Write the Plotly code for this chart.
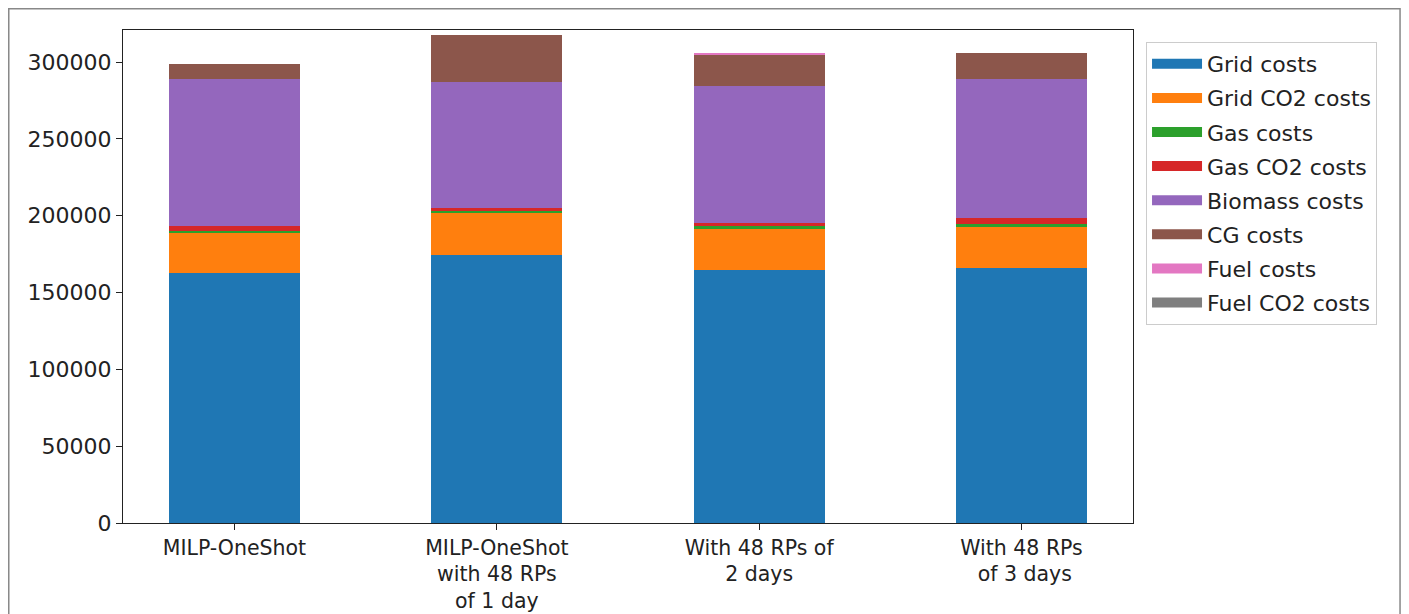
import plotly.graph_objects as go

categories = ["MILP-OneShot",
              "MILP-OneShot<br>with 48 RPs<br>of 1 day",
              "With 48 RPs of<br>2 days",
              "With 48 RPs<br> of 3 days"]

grid_costs = [162500, 174400, 164650, 165750]
grid_co2_costs = [26400, 27200, 26450, 26650]
gas_costs = [1100, 1400, 2400, 2100]
gas_co2_costs = [3400, 1800, 1700, 4200]
biomass_costs = [95400, 82000, 89400, 90250]
cg_costs = [9700, 30800, 20200, 17150]
fuel_costs = [0, 0, 1300, 0]
fuel_co2_costs = [0, 0, 0, 0]

series_names = ["Grid costs", "Grid CO2 costs", "Gas costs", "Gas CO2 costs",
                "Biomass costs", "CG costs", "Fuel costs", "Fuel CO2 costs"]
series_values = [grid_costs, grid_co2_costs, gas_costs, gas_co2_costs,
                 biomass_costs, cg_costs, fuel_costs, fuel_co2_costs]
colors = ["#1f77b4", "#ff7f0e", "#2ca02c", "#d62728",
          "#9467bd", "#8c564b", "#e377c2", "#7f7f7f"]

y_ticks = [0, 50000, 100000, 150000, 200000, 250000, 300000]

x_pos = list(range(len(categories)))

fig = go.Figure()
for name, vals, col in zip(series_names, series_values, colors):
    fig.add_trace(go.Bar(
        x=x_pos, y=vals, name=name, legendgroup=name, showlegend=False,
        marker=dict(color=col, line=dict(width=0)),
        width=0.5,
    ))
# legend swatches (wide rectangles like the reference)
for name, col in zip(series_names, colors):
    fig.add_trace(go.Scatter(
        x=[None], y=[None], mode="lines", name=name, legendgroup=name,
        line=dict(color=col, width=14), hoverinfo="skip",
    ))

font_family = "DejaVu Sans"
fig.update_layout(
    width=1409, height=614,
    barmode="stack",
    plot_bgcolor="white", paper_bgcolor="white",
    margin=dict(l=115, r=284, t=22, b=99, autoexpand=False),
    font=dict(family=font_family, size=22, color="#222222"),
    showlegend=True,
    legend=dict(
        x=1.0129, y=0.9757, xanchor="left", yanchor="top",
        bordercolor="#cccccc", borderwidth=1,
        traceorder="grouped", tracegroupgap=2.5,
        font=dict(family=font_family, size=22, color="#222222"),
        itemwidth=50,
    ),
    xaxis=dict(
        range=[-0.425, 3.425],
        tickmode="array", tickvals=x_pos, ticktext=categories,
        showline=True, linecolor="#222222", linewidth=1.3, mirror=True,
        ticks="outside", ticklen=6, tickcolor="#222222",
        showgrid=False, zeroline=False, automargin=False,
        tickfont=dict(size=20.5),
    ),
    yaxis=dict(
        range=[0, 320850],
        tickmode="array",
        tickvals=y_ticks,
        ticktext=[str(v) for v in y_ticks],
        showline=True, linecolor="#222222", linewidth=1.3, mirror=True,
        ticks="outside", ticklen=6, tickcolor="#222222",
        showgrid=False, zeroline=False, automargin=False,
        tickfont=dict(size=22),
    ),
    shapes=[dict(
        type="rect", xref="paper", yref="paper",
        x0=-0.1131, x1=1.2644, y0=-0.25, y1=1.0431,
        line=dict(color="#888888", width=1.5), fillcolor="rgba(0,0,0,0)",
        layer="below",
    )],
)

fig.write_html("out.html")
